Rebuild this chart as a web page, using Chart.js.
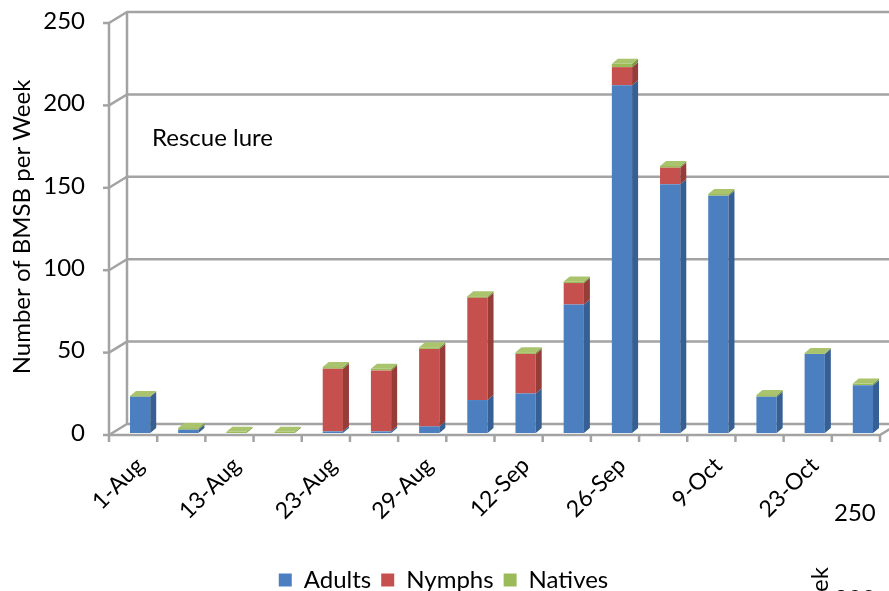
<!DOCTYPE html>
<html>
<head>
<meta charset="utf-8">
<script src="https://cdn.jsdelivr.net/npm/chart.js@4"></script>
<style>
html, body { margin: 0; padding: 0; background: #fff; }
#wrap { width: 889px; height: 591px; }
</style>
</head>
<body>
<div id="wrap"><canvas id="bmsbChart"></canvas></div>
<script>
// weekly trap counts
const weeks = ['1-Aug', '8-Aug', '13-Aug', '19-Aug', '23-Aug', '26-Aug', '29-Aug', '5-Sep',
               '12-Sep', '19-Sep', '26-Sep', '2-Oct', '9-Oct', '16-Oct', '23-Oct', '30-Oct'];
const adults  = [22, 2, 0, 0, 1, 1, 4, 20, 24, 78, 211, 151, 144, 22, 48, 29];
const nymphs  = [0, 0, 0, 0, 38, 37, 47, 62, 24, 13, 11, 10, 0, 0, 0, 0];
const natives = [0.5, 1, 0.7, 0.7, 1, 1, 1, 1, 1, 1, 2, 1, 1, 1, 0.5, 1];
const yTicks = [0, 50, 100, 150, 200, 250];

const FONT = 'Lato';
var ctx = document.getElementById('bmsbChart');

// fake 3d: offsets of the front plane / back wall from the bar plane
const frontOff = { x: -7, y: 2 };
const backOff = { x: 11, y: -9 };
const depth = { x: 6, y: -5 };
const sideColors = ['#365f93', '#963c39', '#7a9743'];
const topColors = ['#6f9bd3', '#d87573', '#a9c46d'];

const wallsPlugin = {
    id: 'walls',
    beforeDatasetsDraw(chart) {
        const c = chart.ctx;
        const a = chart.chartArea;
        const y = chart.scales.y;
        c.save();
        c.strokeStyle = '#a3a3a3';
        c.lineWidth = 2.5;
        yTicks.forEach(v => {
            const py = y.getPixelForValue(v);
            c.beginPath();
            c.moveTo(a.left + frontOff.x, py + frontOff.y);
            c.lineTo(a.left + backOff.x, py + backOff.y);
            c.lineTo(chart.width, py + backOff.y);
            c.stroke();
            c.beginPath();
            c.moveTo(a.left + frontOff.x - 6, py + frontOff.y);
            c.lineTo(a.left + frontOff.x, py + frontOff.y);
            c.stroke();
        });
        const y0 = y.getPixelForValue(0);
        const yMax = y.getPixelForValue(250);
        // front axis + back wall edge
        c.beginPath();
        c.moveTo(a.left + frontOff.x, y0 + frontOff.y);
        c.lineTo(a.left + frontOff.x, yMax + frontOff.y);
        c.moveTo(a.left + backOff.x, y0 + backOff.y);
        c.lineTo(a.left + backOff.x, yMax + backOff.y);
        c.stroke();
        // floor front edge
        c.beginPath();
        c.moveTo(a.left + frontOff.x, y0 + frontOff.y);
        c.lineTo(a.right + frontOff.x, y0 + frontOff.y);
        c.lineTo(a.right + backOff.x, y0 + backOff.y);
        c.stroke();
        // category ticks
        const step = (a.right - a.left) / weeks.length;
        for (let i = 0; i <= weeks.length; i++) {
            const px = a.left + frontOff.x + i * step;
            c.beginPath();
            c.moveTo(px, y0 + frontOff.y);
            c.lineTo(px, y0 + frontOff.y + 7);
            c.stroke();
        }
        c.restore();
    },
    afterDatasetsDraw(chart) {
        const c = chart.ctx;
        c.save();
        for (let i = 0; i < weeks.length; i++) {
            let topMost = -1;
            chart.data.datasets.forEach((ds, d) => { if (ds.data[i] > 0) topMost = d; });
            chart.data.datasets.forEach((ds, d) => {
                if (!(ds.data[i] > 0)) return;
                const bar = chart.getDatasetMeta(d).data[i];
                const p = bar.getProps(['x', 'y', 'base', 'width'], true);
                const l = p.x - p.width / 2, r = p.x + p.width / 2;
                c.fillStyle = sideColors[d];
                c.beginPath();
                c.moveTo(r, p.base);
                c.lineTo(r, p.y);
                c.lineTo(r + depth.x, p.y + depth.y);
                c.lineTo(r + depth.x, p.base + depth.y);
                c.closePath();
                c.fill();
                if (d === topMost) {
                    c.fillStyle = topColors[d];
                    c.beginPath();
                    c.moveTo(l, p.y);
                    c.lineTo(l + depth.x, p.y + depth.y);
                    c.lineTo(r + depth.x, p.y + depth.y);
                    c.lineTo(r, p.y);
                    c.closePath();
                    c.fill();
                }
            });
        }
        c.restore();
    },
    afterDraw(chart) {
        const c = chart.ctx;
        c.save();
        c.fillStyle = '#000';
        c.textBaseline = 'middle';
        c.font = '24px ' + FONT;
        c.fillText('Rescue lure', 152, 138);
        // bits of the next chart peeking in at the bottom right
        c.fillText('250', 834, 513);
        c.fillText('200', 834, 599);
        c.translate(820, 578);
        c.rotate(-Math.PI / 2);
        c.fillText('ek', -14, 0);
        c.restore();
    }
};

const renderChart = () => {
    new Chart(ctx, {
        type: 'bar',
        data: {
            labels: weeks,
            datasets: [
                { label: 'Adults', data: adults, backgroundColor: '#4b7fc0' },
                { label: 'Nymphs', data: nymphs, backgroundColor: '#c6504d' },
                { label: 'Natives', data: natives, backgroundColor: '#9bbb59' }
            ]
        },
        options: {
            responsive: true,
            maintainAspectRatio: false,
            animation: false,
            layout: { padding: { top: 21, right: 2, bottom: -11, left: 0 } },
            datasets: {
                bar: { categoryPercentage: 1, barPercentage: 0.42, borderWidth: 0 }
            },
            scales: {
                x: {
                    stacked: true,
                    grid: { display: false, drawTicks: false },
                    border: { display: false },
                    ticks: {
                        autoSkip: false,
                        minRotation: 45,
                        maxRotation: 45,
                        padding: 19,
                        color: '#000',
                        font: { family: FONT, size: 23 },
                        callback: (val, idx) => idx % 2 === 0 ? weeks[idx] : ''
                    },
                    afterFit: s => {
                        s.height = 125;
                        s.paddingLeft = 0;
                        s.paddingRight = 0;
                    }
                },
                y: {
                    stacked: true,
                    min: 0,
                    max: 250,
                    grid: { display: false, drawTicks: false },
                    border: { display: false },
                    ticks: {
                        stepSize: 50,
                        padding: 31,
                        color: '#000',
                        font: { family: FONT, size: 24 }
                    },
                    title: {
                        display: true,
                        text: 'Number of BMSB per Week',
                        color: '#000',
                        font: { family: FONT, size: 24 },
                        padding: { top: 8, bottom: 0 }
                    },
                    afterFit: s => {
                        s.width = 116;
                        // tick padding would otherwise push the plot down
                        s.paddingTop = 0;
                        s.paddingBottom = 0;
                    }
                }
            },
            plugins: {
                tooltip: { enabled: false },
                legend: {
                    position: 'bottom',
                    labels: {
                        boxWidth: 13,
                        boxHeight: 13,
                        padding: 10,
                        color: '#000',
                        font: { family: FONT, size: 24 }
                    }
                }
            }
        },
        plugins: [wallsPlugin]
    });
}

renderChart();
</script>
</body>
</html>
